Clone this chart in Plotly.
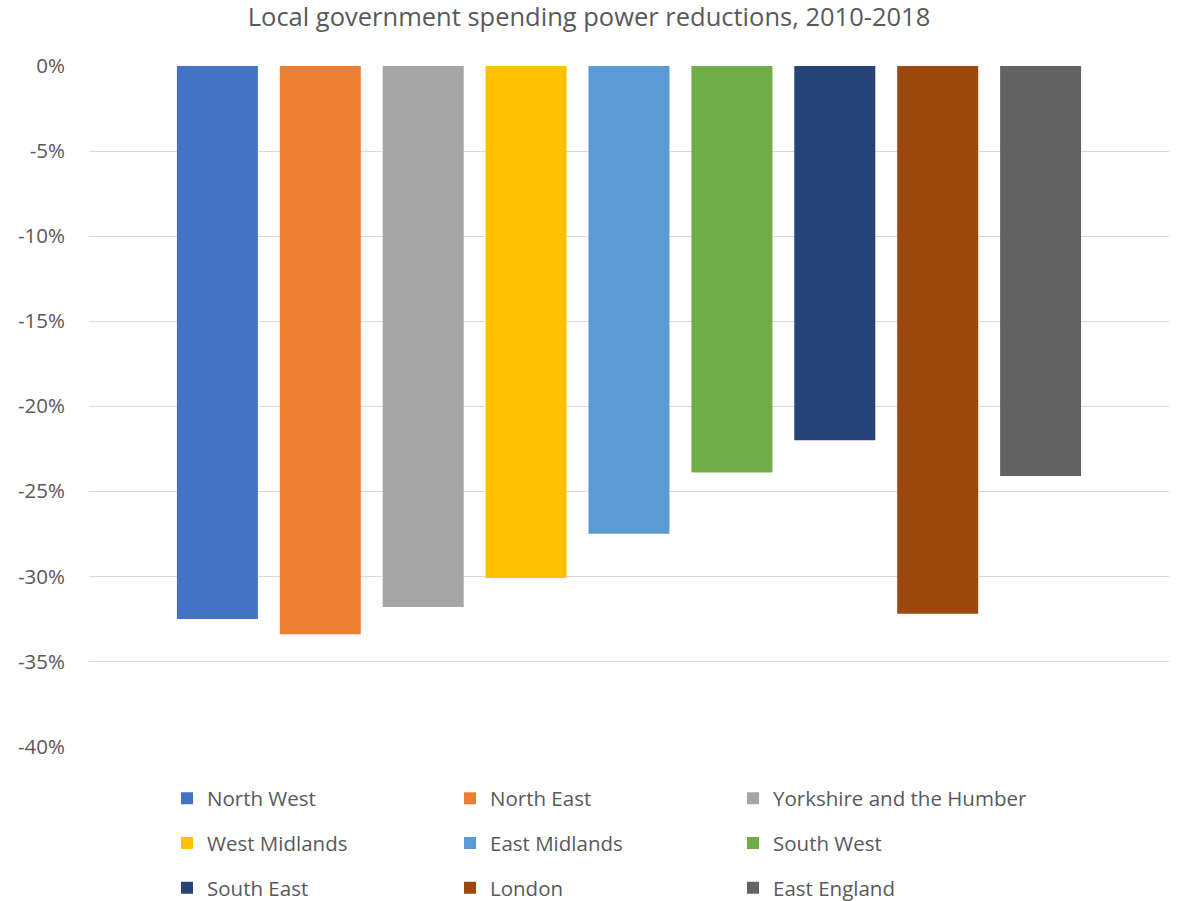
import plotly.graph_objects as go

regions = ["North West", "North East", "Yorkshire and the Humber",
           "West Midlands", "East Midlands", "South West",
           "South East", "London", "East England"]
reductions = [-32.5, -33.4, -31.8, -30.1, -27.5, -23.9, -22.0, -32.2, -24.1]
colors = ["#4472C4", "#ED7D31", "#A5A5A5", "#FFC000", "#5B9BD5",
          "#70AD47", "#264478", "#9E480E", "#636363"]
tick_vals = [0, -5, -10, -15, -20, -25, -30, -35, -40]
tick_text = ["0%", "-5%", "-10%", "-15%", "-20%", "-25%", "-30%", "-35%", "-40%"]

FONT = "Open Sans"
TXT = "#595959"

fig = go.Figure()
legend_ids = ["legend", "legend2", "legend3"]  # one legend per column
for i, (name, val, col) in enumerate(zip(regions, reductions, colors)):
    fig.add_trace(go.Bar(
        x=[""], y=[val], name=name, marker_color=col,
        marker_line_width=0, legend=legend_ids[i % 3], legendgroup=name,
        hovertemplate="%{y}%<extra>" + name + "</extra>",
    ))

plot_left, plot_right = 89, 1169
plot_top, plot_bot = 66, 747
pw = plot_right - plot_left
ph = plot_bot - plot_top
mid_row_px = 843
col_px = [167, 167 + 283, 167 + 566]
legend_common = dict(orientation="v", xanchor="left", yanchor="middle",
                     font=dict(family=FONT, size=20.5, color=TXT),
                     itemwidth=30, bgcolor="rgba(0,0,0,0)",
                     traceorder="grouped", tracegroupgap=15,
                     y=(plot_bot - mid_row_px) / ph)

fig.update_layout(
    width=1178, height=901,
    margin=dict(l=plot_left, r=1178 - plot_right, t=plot_top, b=901 - plot_bot,
                pad=0, autoexpand=False),
    paper_bgcolor="white", plot_bgcolor="white",
    title=dict(text="Local government spending power reductions, 2010-2018",
               x=0.5, xanchor="center", y=1 - 17 / 901, yanchor="middle",
               yref="container",
               font=dict(family=FONT, size=25.5, color=TXT)),
    barmode="group", bargap=0.1425, bargroupgap=0.213,
    xaxis=dict(showticklabels=False, showgrid=False, zeroline=False,
               showline=False, fixedrange=True),
    yaxis=dict(range=[-40.03, 0], tickvals=tick_vals, ticktext=tick_text,
               showgrid=True, gridcolor="#D9D9D9", gridwidth=1,
               zeroline=False, showline=False, ticks="",
               ticklabelstandoff=23,
               tickfont=dict(family=FONT, size=20.5, color=TXT)),
    legend=dict(**legend_common, x=(col_px[0] - plot_left) / pw),
    legend2=dict(**legend_common, x=(col_px[1] - plot_left) / pw),
    legend3=dict(**legend_common, x=(col_px[2] - plot_left) / pw),
    showlegend=True,
)

fig.write_html("out.html", config={"displayModeBar": False},
               post_script="document.body.style.margin='0';document.body.style.overflow='hidden';")
